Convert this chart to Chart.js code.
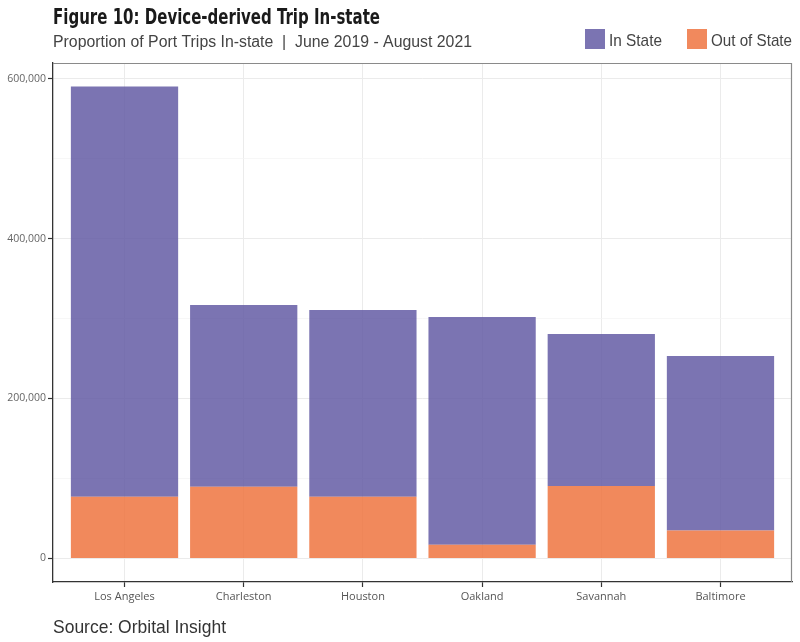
<!DOCTYPE html>
<html>
<head>
<meta charset="utf-8">
<script src="https://cdn.jsdelivr.net/npm/chart.js@4.4.0/dist/chart.umd.min.js"></script>
<style>
  html, body { margin: 0; padding: 0; background: #fff; }
  #wrap { width: 800px; height: 642px; }
</style>
</head>
<body>
<div id="wrap"><canvas id="tripChart" width="800" height="642"></canvas></div>
<script>
// chart data
const categories = ['Los Angeles', 'Charleston', 'Houston', 'Oakland', 'Savannah', 'Baltimore'];
const inState = [513000, 227500, 233500, 285000, 190000, 218000];
const outOfState = [77000, 89500, 77000, 17000, 90500, 35000];
const yTicks = [0, 200000, 400000, 600000];
const yMinorTicks = [100000, 300000, 500000];

const titleText = 'Figure 10: Device-derived Trip In-state';
const subtitleText = 'Proportion of Port Trips In-state  |  June 2019 - August 2021';
const sourceText = 'Source: Orbital Insight';

// x positions are category indexes, so the axis can be padded like ggplot does
const toPoints = (values) => values.map((v, i) => ({ x: i, y: v }));

// draw text squeezed/stretched to a given width
function fitText(ctx, text, x, y, width) {
    const w = ctx.measureText(text).width;
    ctx.save();
    ctx.translate(x, y);
    ctx.scale(width / w, 1);
    ctx.fillText(text, 0, 0);
    ctx.restore();
}

// title, subtitle, legend, source and the panel border
const decorPlugin = {
    id: 'decor',
    afterDraw(chart) {
        const ctx = chart.ctx;
        const a = chart.chartArea;
        ctx.save();

        // top and right sides of the panel border
        ctx.strokeStyle = '#8a8a8a';
        ctx.lineWidth = 1.2;
        ctx.beginPath();
        ctx.moveTo(a.left, a.top + 0.5);
        ctx.lineTo(a.right - 0.5, a.top + 0.5);
        ctx.lineTo(a.right - 0.5, a.bottom);
        ctx.stroke();

        ctx.textBaseline = 'alphabetic';
        ctx.textAlign = 'left';

        ctx.fillStyle = '#1a1a1a';
        ctx.font = 'bold 22px "Liberation Sans Narrow", "DejaVu Sans Condensed", sans-serif';
        fitText(ctx, titleText, 53, 24, 327);

        ctx.fillStyle = '#444';
        ctx.font = '16px "Liberation Sans Narrow", "Liberation Sans", sans-serif';
        fitText(ctx, subtitleText, 53, 47, 419);

        ctx.fillStyle = '#333';
        ctx.font = '19px "Liberation Sans Narrow", "Liberation Sans", sans-serif';
        fitText(ctx, sourceText, 53, 633, 173);

        // legend, In State first
        const items = chart.data.datasets.slice().reverse();
        const boxX = [585, 687];
        const textW = [53, 81];
        ctx.font = '17px "Liberation Sans Narrow", "Liberation Sans", sans-serif';
        items.forEach((ds, i) => {
            ctx.fillStyle = ds.legendColor;
            ctx.fillRect(boxX[i], 29, 20, 20);
            ctx.fillStyle = '#444';
            fitText(ctx, ds.label, boxX[i] + 24, 46, textW[i]);
        });

        ctx.restore();
    }
};

const ctx = document.getElementById('tripChart').getContext('2d');
new Chart(ctx, {
    type: 'bar',
    data: {
        datasets: [
            {
                label: 'Out of State',
                data: toPoints(outOfState),
                backgroundColor: 'rgba(239, 116, 64, 0.85)',
                legendColor: 'rgb(241, 137, 93)',
                borderWidth: 0,
                barPercentage: 0.9,
                categoryPercentage: 1
            },
            {
                label: 'In State',
                data: toPoints(inState),
                backgroundColor: 'rgba(100, 92, 164, 0.85)',
                legendColor: 'rgb(123, 116, 178)',
                borderWidth: 0,
                barPercentage: 0.9,
                categoryPercentage: 1
            }
        ]
    },
    options: {
        responsive: false,
        animation: false,
        layout: { padding: { top: 63, right: 8, left: 0, bottom: 0 } },
        plugins: {
            legend: { display: false },
            title: { display: false },
            tooltip: { enabled: false }
        },
        scales: {
            x: {
                type: 'linear',
                stacked: true,
                offset: false,
                min: -0.6,
                max: categories.length - 0.4,
                afterFit: (scale) => { scale.height = 60; },
                afterBuildTicks: (scale) => {
                    scale.ticks = categories.map((c, i) => ({ value: i }));
                },
                grid: {
                    offset: false,
                    color: '#ebebeb',
                    lineWidth: 1,
                    tickColor: '#333',
                    tickWidth: 1.2,
                    tickLength: 5
                },
                border: { color: '#333', width: 1.3 },
                ticks: {
                    color: '#555',
                    padding: 3,
                    maxRotation: 0,
                    autoSkip: false,
                    font: { family: '"Open Sans", sans-serif', size: 11 },
                    callback: (v) => categories[v]
                }
            },
            y: {
                stacked: true,
                min: -29500,
                max: 619500,
                afterFit: (scale) => { scale.width = 53; },
                afterBuildTicks: (scale) => {
                    scale.ticks = yTicks.concat(yMinorTicks)
                        .sort((p, q) => p - q)
                        .map(v => ({ value: v }));
                },
                grid: {
                    color: (c) => yTicks.includes(c.tick.value) ? '#ebebeb' : '#f4f4f4',
                    lineWidth: (c) => yTicks.includes(c.tick.value) ? 1 : 0.7,
                    tickColor: (c) => yTicks.includes(c.tick.value) ? '#333' : 'rgba(0,0,0,0)',
                    tickWidth: 1.2,
                    tickLength: 5
                },
                border: { color: '#333', width: 1.3 },
                ticks: {
                    color: '#666',
                    padding: 2,
                    font: { family: '"Open Sans", sans-serif', size: 10.5 },
                    callback: (v) => yTicks.includes(v) ? v.toLocaleString('en-US') : ''
                }
            }
        }
    },
    plugins: [decorPlugin]
});
</script>
</body>
</html>
